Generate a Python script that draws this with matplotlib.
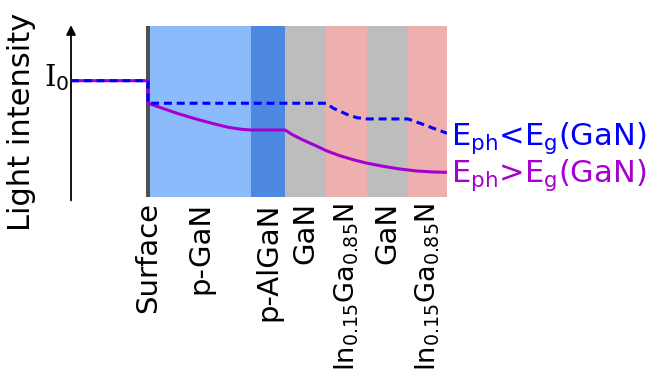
import matplotlib
import matplotlib.pyplot as plt

matplotlib.rcParams.update({
    "font.family": "DejaVu Sans",
    "mathtext.fontset": "dejavusans",
})

# -- Layer stack (depth in arbitrary units, arrow axis at 0) -------------------
layer_names = ["p-GaN", "p-AlGaN", "GaN", r"In$_{0.15}$Ga$_{0.85}$N",
               "GaN", r"In$_{0.15}$Ga$_{0.85}$N"]
layer_edges = [79, 180, 214, 255, 296, 337, 376]
layer_colors = ["#8bbbfa", "#4d89e3", "#bdbdbd", "#eeb0ae", "#bdbdbd", "#eeb0ae"]
surface_edges = [75, 79]

# -- Intensity profiles (I / I0) -----------------------------------------------
x_below = [0, 77, 77, 79, 90.7, 107.3, 124, 140.7, 157.3, 170.7, 180, 214,
           222, 232, 245.3, 255.3, 268.7, 282, 295.3, 312, 328.7, 345.3,
           362, 376]
i_below = [1.0, 1.0, 0.806, 0.800, 0.765, 0.716, 0.673, 0.634, 0.599, 0.582,
           0.576, 0.576, 0.533, 0.490, 0.439, 0.398, 0.355, 0.321, 0.292,
           0.264, 0.241, 0.224, 0.215, 0.212]

x_above = [0, 77, 77, 255, 262.3, 275.7, 285.7, 296, 337, 349, 362.3, 376]
i_above = [1.0, 1.0, 0.806, 0.806, 0.763, 0.711, 0.682, 0.671, 0.671,
           0.634, 0.591, 0.548]

I0 = 1.0
COLOR_BLUE = "#0000ff"
COLOR_PURPLE = "#a600d0"

fig = plt.figure(figsize=(6.5, 3.79), dpi=100)
ax = fig.add_axes([71 / 650, 1 - 197 / 379, 376 / 650, 171 / 379])
ax.set_xlim(0, 376)
ax.set_ylim(0, 1.47)
ax.axis("off")

# layers
for left, right, c in zip(layer_edges[:-1], layer_edges[1:], layer_colors):
    ax.axvspan(left, right, color=c, lw=0, zorder=0)
ax.axvspan(*surface_edges, color="#4f4f4f", lw=0, zorder=1)

# intensity curves
ax.plot(x_below, i_below, color=COLOR_PURPLE, lw=2.2, zorder=3,
        solid_joinstyle="round")
ax.plot(x_above, i_above, color=COLOR_BLUE, lw=2.2, zorder=4,
        linestyle=(0, (2.6, 1.6)))

# vertical arrow
ax.annotate("", xy=(0, 1.005), xytext=(0, -0.02), xycoords="axes fraction",
            arrowprops=dict(arrowstyle="-|>", color="black", lw=1.3,
                            mutation_scale=14, shrinkA=0, shrinkB=0))

ax.annotate(r"$\mathrm{I}_\mathsf{0}$", xy=(0, I0), xytext=(-1, -4),
            textcoords="offset points", ha="right", va="baseline",
            fontsize=21, math_fontfamily="dejavuserif")

# curve labels
ax.annotate(r"E$_\mathrm{ph}$<E$_\mathrm{g}$(GaN)", xy=(x_above[-1], i_above[-1]),
            xytext=(3, -8.5), textcoords="offset points", ha="left",
            va="baseline", fontsize=22, color=COLOR_BLUE, annotation_clip=False)
ax.annotate(r"E$_\mathrm{ph}$>E$_\mathrm{g}$(GaN)", xy=(x_below[-1], i_below[-1]),
            xytext=(3, -6.8), textcoords="offset points", ha="left",
            va="baseline", fontsize=22, color=COLOR_PURPLE, annotation_clip=False)

# layer names under the stack
label_y = -0.045
ax.text(sum(surface_edges) / 2, label_y, "Surface", rotation=90, ha="center",
        va="top", fontsize=21)
for left, right, name in zip(layer_edges[:-1], layer_edges[1:], layer_names):
    size = 19.5 if "$" in name else 21
    ax.text((left + right) / 2, label_y, name, rotation=90, ha="center",
            va="top", fontsize=size)

fig.text(22 / 650, 1 - 122 / 379, "Light intensity", rotation=90,
         ha="center", va="center", fontsize=22)

fig.savefig("out.png", dpi=100)
